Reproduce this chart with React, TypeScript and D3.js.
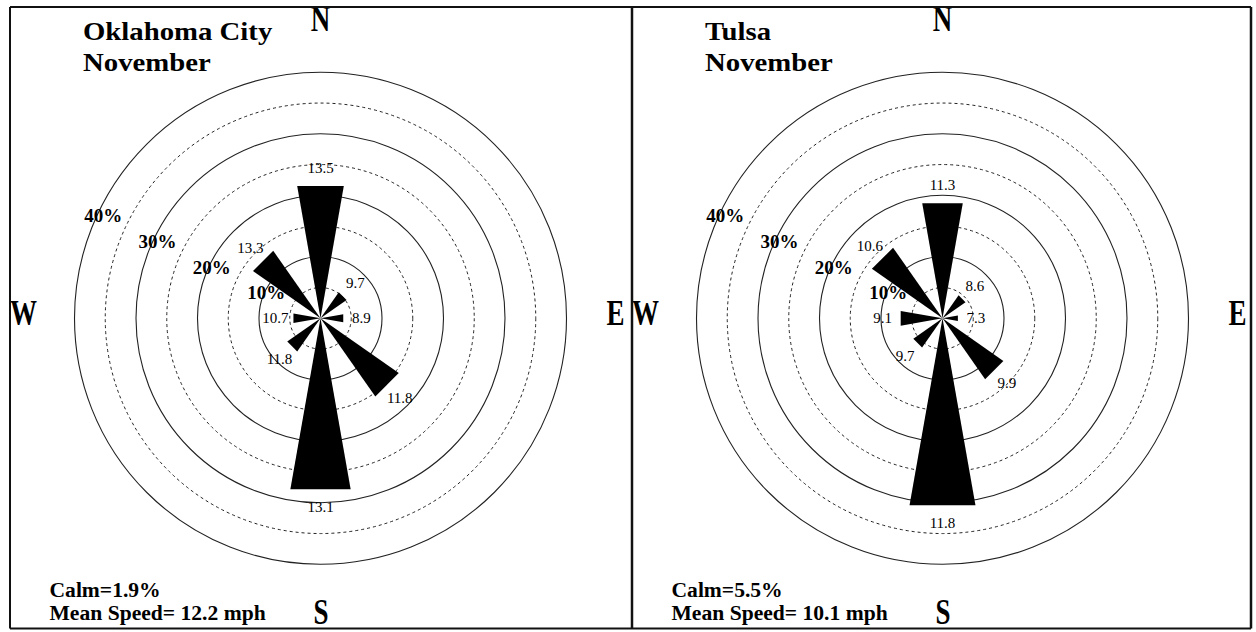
import React from "react";
import * as d3 from "d3";

const directions = ["N", "NE", "E", "SE", "S", "SW", "W", "NW"];
const okcFreq = [21.5, 5.1, 3.7, 15.3, 27.8, 6.5, 4.4, 13.2];
const okcSpeed = ["13.5", "9.7", "8.9", "11.8", "13.1", "11.8", "10.7", "13.3"];
const tulsaFreq = [18.7, 4.5, 2.5, 11.9, 30.4, 5.7, 6.8, 13.8];
const tulsaSpeed = ["11.3", "8.6", "7.3", "9.9", "11.8", "9.7", "9.1", "10.6"];
const ringValues = [5, 10, 15, 20, 25, 30, 35, 40];
const ringLabels = [10, 20, 30, 40];
const compass = ["N", "E", "S", "W"];

const panels = [
  { city: "Oklahoma City", month: "November", freq: okcFreq, speed: okcSpeed, calm: "Calm=1.9%", mean: "Mean Speed= 12.2 mph" },
  { city: "Tulsa", month: "November", freq: tulsaFreq, speed: tulsaSpeed, calm: "Calm=5.5%", mean: "Mean Speed= 10.1 mph" },
];

const SERIF = "'Liberation Serif', 'DejaVu Serif', serif";

function Rose({ p, x0 }: any) {
  const cx = x0 + 310.5;
  const cy = 318.3;
  const r = d3.scaleLinear().domain([0, 40]).range([0, 246]);
  const angle = d3.scaleBand().domain(directions).range([0, 2 * Math.PI]).align(0);
  const half = (10 * Math.PI) / 180;
  const dirAngle = (d: string) => angle(d) as number;
  const pt = (a: number, rad: number) => [Math.sin(a) * rad, -Math.cos(a) * rad];
  const wedge = (a: number, len: number) => {
    const ext = len / Math.cos(half);
    const p1 = pt(a - half, ext);
    const p2 = pt(a + half, ext);
    return d3.line()([[0, 0], p1 as [number, number], p2 as [number, number]]) + "Z";
  };
  const labelAng = (25 * Math.PI) / 180;
  return (
    <g>
      <g transform={`translate(${cx},${cy})`}>
        {ringValues.map((v) => (
          <circle
            key={v}
            r={r(v)}
            fill="none"
            stroke="#222"
            strokeWidth={v % 10 === 0 ? 1.1 : 1}
            strokeDasharray={v % 10 === 0 ? undefined : "3,3"}
          />
        ))}
        {ringLabels.map((v) => (
          <text
            key={v}
            x={-Math.cos(labelAng) * r(v) * 0.975}
            y={-Math.sin(labelAng) * r(v) * 0.985}
            textAnchor="middle"
            dominantBaseline="central"
            fontFamily={SERIF}
            fontWeight="bold"
            fontSize={19}
            fill="#000"
          >
            {v}%
          </text>
        ))}
        {directions.map((d, i) => (
          <path key={d} d={wedge(dirAngle(d), r(p.freq[i]))} fill="#000" />
        ))}
        {directions.map((d, i) => {
          const [lx, ly] = pt(dirAngle(d), r(p.freq[i]) + 18);
          return (
            <text
              key={d}
              x={lx}
              y={ly}
              textAnchor="middle"
              dominantBaseline="central"
              fontFamily={SERIF}
              fontSize={15}
              fill="#000"
            >
              {p.speed[i]}
            </text>
          );
        })}
      </g>
      {compass.map((c) => {
        const pos: any = {
          N: [cx, 30.5],
          S: [cx + 0.5, 624],
          E: [cx + 295, 325],
          W: [cx - 297, 325],
        }[c];
        return (
          <text
            key={c}
            transform={`translate(${pos[0]},${pos[1]}) scale(1,1.3)`}
            textAnchor="middle"
            fontFamily={SERIF}
            fontWeight="bold"
            fontSize={27}
            fill="#000"
          >
            {c}
          </text>
        );
      })}
      <g fontFamily={SERIF} fontWeight="bold" fill="#000">
        <text transform={`translate(${x0 + 73},40) scale(1.15,1)`} fontSize={25}>
          {p.city}
        </text>
        <text transform={`translate(${x0 + 73},70.5) scale(1.15,1)`} fontSize={25}>
          {p.month}
        </text>
        <text transform={`translate(${x0 + 39.5},597) scale(1.08,1)`} fontSize={20}>
          {p.calm}
        </text>
        <text transform={`translate(${x0 + 39.5},620) scale(1.08,1)`} fontSize={20}>
          {p.mean}
        </text>
      </g>
    </g>
  );
}

export default function App() {
  const left = 10;
  const mid = 632;
  const right = 1251;
  const top = 7;
  const bottom = 628.5;
  return (
    <svg
      width={1256}
      height={632}
      viewBox="0 0 1256 632"
      style={{ position: "absolute", left: 0, top: 0, background: "#fff" }}
    >
      <rect x={0} y={0} width={1256} height={632} fill="#fff" />
      <Rose p={panels[0]} x0={left} />
      <Rose p={panels[1]} x0={mid} />
      <g stroke="#111" fill="none">
        <line x1={left} x2={right} y1={top} y2={top} strokeWidth={2} />
        <line x1={left} x2={right} y1={bottom} y2={bottom} strokeWidth={2} />
        <line x1={left} x2={left} y1={top} y2={bottom} strokeWidth={2} />
        <line x1={mid} x2={mid} y1={top} y2={bottom} strokeWidth={2.5} />
        <line x1={right} x2={right} y1={top} y2={bottom} strokeWidth={2.5} />
      </g>
    </svg>
  );
}
